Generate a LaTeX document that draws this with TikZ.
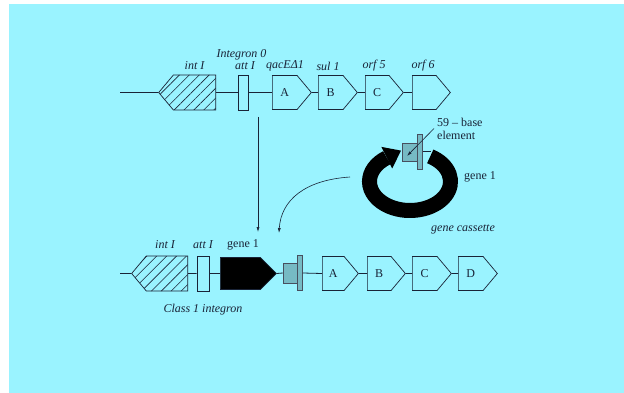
\documentclass[tikz,border=0pt]{standalone}
\usepackage{fontspec}
\setmainfont{Liberation Serif}
\usetikzlibrary{shapes.symbols,patterns.meta,arrows.meta,positioning}
\definecolor{panel}{RGB}{154,243,255}
\definecolor{ink}{RGB}{25,35,55}
\definecolor{elemgrey}{RGB}{118,186,196}
\tikzset{
  dna/.style={draw=ink, line width=0.8pt},
  ptr/.style={draw=ink, line width=0.6pt, -{Latex[length=5pt,width=3pt]}},
  gene/.style={signal, signal to=east, signal pointer angle=100, draw=ink,
    line width=0.7pt, minimum width=38pt, minimum height=34pt, inner sep=0pt,
    anchor=west, text=ink, font=\fontsize{12}{13}\selectfont},
  intgene/.style={signal, signal to=west, signal pointer angle=100, draw=ink,
    line width=0.7pt, minimum height=35pt, inner sep=0pt, anchor=east,
    pattern={Lines[angle=45,distance=7pt,line width=0.6pt]}, pattern color=ink},
  attsite/.style={rectangle, draw=ink, line width=0.7pt, minimum width=10pt,
    minimum height=35pt, inner sep=0pt},
  elembox/.style={rectangle, draw=ink!80, fill=elemgrey, line width=0.5pt,
    minimum width=15pt, minimum height=20pt, inner sep=0pt},
  elembar/.style={rectangle, draw=ink!80, fill=elemgrey, line width=0.5pt,
    minimum width=5pt, minimum height=35pt, inner sep=0pt},
  cassettering/.style={draw=black, line width=15pt},
  lab/.style={text=ink, inner sep=1pt, font=\fontsize{12}{13}\selectfont\itshape},
  note/.style={text=ink, inner sep=1pt, font=\fontsize{12}{13}\selectfont},
}
\begin{document}
\begin{tikzpicture}[x=1pt,y=-1pt]
\useasboundingbox (0,0) rectangle (624,393);
\fill[panel] (9,4) rectangle (624,393);

% Integron 0
\coordinate (top0) at (120,92.5);
\node[intgene, minimum width=57pt] (int0) at (216,92.5) {};
\node[attsite] (att0) at (243,92.5) {};
\node[gene, minimum width=39pt] (qac) at (272,92.5) {A};
\node[gene, minimum width=39pt] (sul) at (318,92.5) {B};
\node[gene] (orf5) at (365,92.5) {C};
\node[gene] (orf6) at (412,92.5) {};
\draw[dna] (top0) -- (int0.west) (int0.east) -- (att0.west)
  (att0.east) -- (qac.west) (qac.east) -- (sul.west)
  (sul.east) -- (orf5.west) (orf5.east) -- (orf6.west);
\node[lab] (title0) at (241.5,55) {Integron 0};
\node[lab] (int0lab) at (194.5,66) {int I};
\node[lab] (att0lab) at (245,66) {att I};
\node[lab] (qaclab) at (285,66) {qacEΔ1};
\node[lab] (sullab) at (328,66) {sul 1};
\node[lab] (orf5lab) at (374,66) {orf 5};
\node[lab] (orf6lab) at (423,66) {orf 6};

% gene cassette
\draw[cassettering] (410,181.5) ++(-60:40.5 and 29)
  arc[start angle=-60, end angle=235, x radius=40.5, y radius=29];
\fill[black] (381.4,146.9) -- (401.0,150.6) -- (392.2,168.5) -- cycle;
\node[elembox, minimum width=16pt, minimum height=18pt] (cas0) at (410,152) {};
\node[elembar, anchor=west] (cas0bar) at ([xshift=-1pt]cas0.east) {};
\coordinate (ringend) at (431,151);
\draw[dna] (cas0bar.east |- ringend) -- (ringend);
\node[note, anchor=west, align=left] (baselab) at (436,128.5) {59 – base\\element};
\coordinate (elemtip) at (407,156);
\draw[ptr] ([xshift=-2pt]baselab.west) -- (elemtip);
\node[note] (genelab) at (480,177) {gene 1};
\node[lab] (caslab) at (463,229) {gene cassette};

% insertion
\coordinate (drop0) at (258,117);
\coordinate (drop1) at (258,232);
\draw[ptr] (drop0) -- (drop1);
\coordinate (insert0) at (350,177);
\coordinate (insert1) at (279,233);
\draw[ptr] (insert0) .. controls (305,180) and (281,200) .. (insert1);

% Class 1 integron
\coordinate (bot0) at (120,273.5);
\node[intgene, minimum width=56pt] (int1) at (188,273.5) {};
\node[attsite, minimum width=12pt] (att1) at (203,273.5) {};
\node[gene, fill=black, minimum width=56pt, minimum height=32pt,
  signal pointer angle=90] (gene1) at (220,273.5) {};
\node[elembox] (cas1) at (290.5,273) {};
\node[elembar, anchor=west] (cas1bar) at ([xshift=-1pt]cas1.east) {};
\node[gene, minimum width=36pt] (geneA) at (322,273.5) {A};
\node[gene] (geneB) at (367,273.5) {B};
\node[gene, minimum width=39pt] (geneC) at (412,273.5) {C};
\node[gene, minimum width=39pt] (geneD) at (458,273.5) {D};
\draw[dna] (bot0) -- (int1.west) (int1.east) -- (att1.west)
  (att1.east) -- (gene1.west) (gene1.east) -- (cas1.west)
  (cas1bar.east) -- (geneA.west) (geneA.east) -- (geneB.west)
  (geneB.east) -- (geneC.west) (geneC.east) -- (geneD.west);
\node[lab] (int1lab) at (165,245) {int I};
\node[lab] (att1lab) at (203,245) {att I};
\node[note] (gene1lab) at (243,245) {gene 1};
\node[lab] (class1lab) at (203,310) {Class 1 integron};
\end{tikzpicture}
\end{document}
